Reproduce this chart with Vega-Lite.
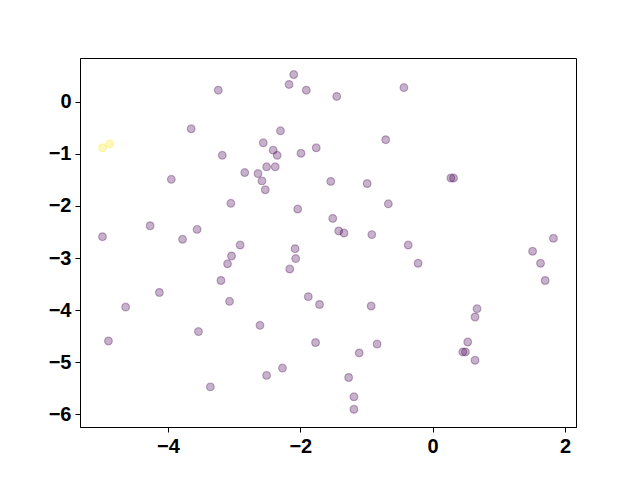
{
  "$schema": "https://vega.github.io/schema/vega-lite/v6.json",
  "width": 496,
  "height": 369,
  "autosize": {"type": "none"},
  "padding": {"left": 80, "top": 58, "right": 64, "bottom": 53},
  "background": "white",
  "config": {
    "view": {"stroke": "black", "strokeWidth": 1},
    "axis": {
      "grid": false,
      "domain": true,
      "domainColor": "black",
      "domainWidth": 1,
      "tickColor": "black",
      "tickSize": 5,
      "tickWidth": 1,
      "labelFont": "Liberation Sans",
      "labelFontWeight": "bold",
      "labelFontSize": 20,
      "labelColor": "black",
      "labelPadding": 4,
      "title": null
    }
  },
  "data": {
    "values": [
      {"x": -2.10, "y": 0.52, "c": 0},
      {"x": -2.17, "y": 0.33, "c": 0},
      {"x": -1.91, "y": 0.22, "c": 0},
      {"x": -3.24, "y": 0.22, "c": 0},
      {"x": -3.65, "y": -0.52, "c": 0},
      {"x": -2.30, "y": -0.56, "c": 0},
      {"x": -4.99, "y": -0.885, "c": 1},
      {"x": -4.88, "y": -0.81, "c": 1},
      {"x": -2.56, "y": -0.79, "c": 0},
      {"x": -2.41, "y": -0.93, "c": 0},
      {"x": -2.35, "y": -1.03, "c": 0},
      {"x": -1.99, "y": -0.99, "c": 0},
      {"x": -1.76, "y": -0.885, "c": 0},
      {"x": -3.18, "y": -1.03, "c": 0},
      {"x": -2.51, "y": -1.25, "c": 0},
      {"x": -2.38, "y": -1.25, "c": 0},
      {"x": -2.84, "y": -1.36, "c": 0},
      {"x": -2.64, "y": -1.38, "c": 0},
      {"x": -2.58, "y": -1.52, "c": 0},
      {"x": -2.53, "y": -1.69, "c": 0},
      {"x": -3.95, "y": -1.49, "c": 0},
      {"x": -3.05, "y": -1.95, "c": 0},
      {"x": -2.04, "y": -2.06, "c": 0},
      {"x": -4.27, "y": -2.38, "c": 0},
      {"x": -3.56, "y": -2.45, "c": 0},
      {"x": -3.78, "y": -2.64, "c": 0},
      {"x": -4.99, "y": -2.59, "c": 0},
      {"x": -2.91, "y": -2.75, "c": 0},
      {"x": -2.08, "y": -2.82, "c": 0},
      {"x": -1.54, "y": -1.53, "c": 0},
      {"x": -1.51, "y": -2.24, "c": 0},
      {"x": -1.45, "y": 0.10, "c": 0},
      {"x": -0.435, "y": 0.27, "c": 0},
      {"x": -0.71, "y": -0.73, "c": 0},
      {"x": -0.99, "y": -1.57, "c": 0},
      {"x": -0.67, "y": -1.96, "c": 0},
      {"x": 0.275, "y": -1.465, "c": 0},
      {"x": 0.315, "y": -1.465, "c": 0},
      {"x": -1.42, "y": -2.48, "c": 0},
      {"x": -1.34, "y": -2.52, "c": 0},
      {"x": -0.92, "y": -2.55, "c": 0},
      {"x": -0.37, "y": -2.75, "c": 0},
      {"x": 1.825, "y": -2.62, "c": 0},
      {"x": 1.51, "y": -2.87, "c": 0},
      {"x": -3.04, "y": -2.96, "c": 0},
      {"x": -2.07, "y": -3.01, "c": 0},
      {"x": -3.10, "y": -3.11, "c": 0},
      {"x": -2.16, "y": -3.21, "c": 0},
      {"x": -3.20, "y": -3.43, "c": 0},
      {"x": -4.13, "y": -3.66, "c": 0},
      {"x": -1.88, "y": -3.74, "c": 0},
      {"x": -1.71, "y": -3.89, "c": 0},
      {"x": -4.64, "y": -3.94, "c": 0},
      {"x": -3.07, "y": -3.83, "c": 0},
      {"x": -2.61, "y": -4.29, "c": 0},
      {"x": -3.54, "y": -4.41, "c": 0},
      {"x": -4.90, "y": -4.59, "c": 0},
      {"x": -1.77, "y": -4.62, "c": 0},
      {"x": -2.27, "y": -5.11, "c": 0},
      {"x": -2.51, "y": -5.25, "c": 0},
      {"x": -3.36, "y": -5.47, "c": 0},
      {"x": -0.22, "y": -3.10, "c": 0},
      {"x": 1.63, "y": -3.10, "c": 0},
      {"x": 1.70, "y": -3.43, "c": 0},
      {"x": -0.93, "y": -3.92, "c": 0},
      {"x": 0.67, "y": -3.97, "c": 0},
      {"x": 0.64, "y": -4.13, "c": 0},
      {"x": -0.84, "y": -4.65, "c": 0},
      {"x": -1.11, "y": -4.82, "c": 0},
      {"x": 0.53, "y": -4.61, "c": 0},
      {"x": 0.455, "y": -4.80, "c": 0},
      {"x": 0.495, "y": -4.80, "c": 0},
      {"x": 0.64, "y": -4.96, "c": 0},
      {"x": -1.27, "y": -5.29, "c": 0},
      {"x": -1.19, "y": -5.66, "c": 0},
      {"x": -1.19, "y": -5.90, "c": 0}
    ]
  },
  "mark": {"type": "circle", "size": 60, "fillOpacity": 0.3, "strokeOpacity": 0.3, "strokeWidth": 1.2},
  "encoding": {
    "x": {
      "field": "x", "type": "quantitative",
      "scale": {"domain": [-5.33, 2.166], "nice": false, "zero": false},
      "axis": {"values": [-4, -2, 0, 2], "format": "d"}
    },
    "y": {
      "field": "y", "type": "quantitative",
      "scale": {"domain": [-6.24, 0.837], "nice": false, "zero": false},
      "axis": {"values": [0, -1, -2, -3, -4, -5, -6], "format": "d"}
    },
    "fill": {
      "field": "c", "type": "nominal",
      "scale": {"domain": [0, 1], "range": ["#440154", "#fde725"]},
      "legend": null
    },
    "stroke": {
      "field": "c", "type": "nominal",
      "scale": {"domain": [0, 1], "range": ["#440154", "#fde725"]},
      "legend": null
    }
  }
}
